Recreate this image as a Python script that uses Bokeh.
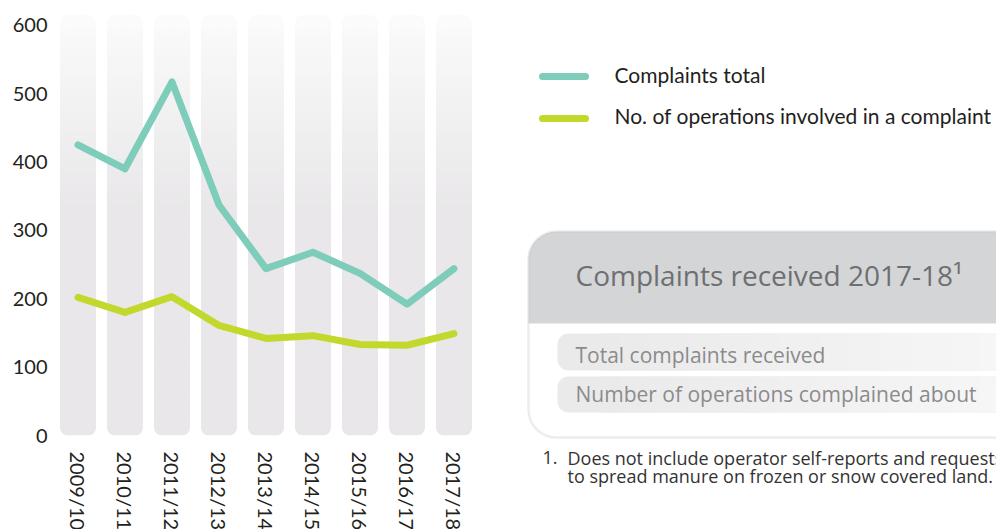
from bokeh.plotting import figure
from bokeh.models import ColumnDataSource, Range1d, FactorRange, BoxAnnotation
from bokeh.transform import dodge
from bokeh.layouts import row
from bokeh.embed import file_html
from bokeh.resources import INLINE
from bokeh.core.properties import value

# ---------------- data ----------------
years = ["2009/10", "2010/11", "2011/12", "2012/13", "2013/14",
         "2014/15", "2015/16", "2016/17", "2017/18"]
complaints_total = [425, 390, 517, 337, 244, 268, 237, 192, 244]
operations_involved = [202, 180, 203, 161, 142, 146, 133, 132, 149]
y_ticks = [0, 100, 200, 300, 400, 500, 600]
series_names = ["Complaints total", "No. of operations involved in a complaint"]
box_title = "Complaints received 2017-18\u00b9"
box_rows = ["Total complaints received", "Number of operations complained about"]
footnote_num = "1."
footnote_lines = ["Does not include operator self-reports and requests",
                  "to spread manure on frozen or snow covered land."]

# ---------------- styles ----------------
TEAL = "#7dcdba"
LIME = "#c3d82d"
AXIS_FONT = "Lato"
BOX_FONT = "Open Sans"
TEXT_DARK = "#231f20"

Y_END = 620
FRAME_H = 424
FRAME_W = 423
PX = FRAME_H / Y_END           # pixels per unit
CAT_PX = FRAME_W / len(years)  # pixels per category
BAR_PX = 36
R_PX = 8
BAR_TOP = 615

bar_w = BAR_PX / CAT_PX
r_v = R_PX / PX

p = figure(x_range=FactorRange(*years), y_range=Range1d(0, Y_END),
           frame_width=FRAME_W, frame_height=FRAME_H,
           min_border_left=54, min_border_right=19, min_border_top=11, min_border_bottom=94,
           output_backend="svg", toolbar_location=None)
p.x_range.range_padding = 0
p.frame_align = False

BOT_C = (233, 231, 233)
TOP_C = (251, 251, 251)


def grad(v):
    t = (v - 330) / (BAR_TOP - 330)
    t = max(0.0, min(1.0, t))
    c = tuple(int(round(BOT_C[i] + (TOP_C[i] - BOT_C[i]) * t)) for i in range(3))
    return "#%02x%02x%02x" % c


# gradient bar body
N = 60
lo, hi = r_v, BAR_TOP - r_v
step = (hi - lo) / N
seg = dict(x=[], bottom=[], top=[], color=[])
for k in range(N):
    b = lo + k * step
    t = b + step + 0.8
    for yr in years:
        seg["x"].append(yr)
        seg["bottom"].append(b)
        seg["top"].append(min(t, hi))
        seg["color"].append(grad(b + step / 2))
p.vbar(x="x", width=bar_w, bottom="bottom", top="top", fill_color="color",
       line_color=None, source=ColumnDataSource(seg))

# strips and rounded corners
narrow = (BAR_PX - 2 * R_PX) / CAT_PX
p.vbar(x=years, width=narrow, bottom=0, top=r_v + 0.5, fill_color=grad(0), line_color=None)
p.vbar(x=years, width=narrow, bottom=hi - 0.5, top=BAR_TOP, fill_color=grad(BAR_TOP), line_color=None)
off = bar_w / 2 - R_PX / CAT_PX
csrc = ColumnDataSource(dict(x=years))
for dx in (-off, off):
    p.scatter(x=dodge("x", dx, range=p.x_range), y=r_v, size=2 * R_PX, marker="circle",
              fill_color=grad(0), line_color=None, source=csrc)
    p.scatter(x=dodge("x", dx, range=p.x_range), y=hi, size=2 * R_PX, marker="circle",
              fill_color=grad(BAR_TOP), line_color=None, source=csrc)

# data lines
p.line(x=years, y=complaints_total, line_width=7, line_color=TEAL,
       line_cap="round", line_join="round")
p.line(x=years, y=operations_involved, line_width=7, line_color=LIME,
       line_cap="round", line_join="round")

p.grid.visible = False
p.outline_line_color = None
p.background_fill_color = "white"
p.border_fill_color = "white"
for ax in (p.xaxis[0], p.yaxis[0]):
    ax.axis_line_color = None
    ax.major_tick_line_color = None
    ax.minor_tick_line_color = None
    ax.major_tick_out = 0
    ax.major_tick_in = 0
    ax.major_label_text_font = AXIS_FONT
    ax.major_label_text_font_size = "20px"
    ax.major_label_text_color = TEXT_DARK
p.yaxis.ticker = y_ticks
p.yaxis.major_label_standoff = 7
p.xaxis.major_label_orientation = "vertical"
p.xaxis.major_label_standoff = 16

# ---------------- right panel ----------------
W2, H = 500, 529
X0 = 996 - W2
q = figure(width=W2, height=H, x_range=Range1d(X0, 996), y_range=Range1d(0, H),
           min_border=0, x_axis_location=None, y_axis_location=None,
           output_backend="svg", toolbar_location=None)
q.frame_align = False
q.grid.visible = False
q.outline_line_color = None


def Y(sy):
    return H - sy


def TB(sy, fs):
    # text baseline position (compensating the renderer's baseline offset)
    return Y(sy - 0.42 * fs)


# legend
LEG_FS = 21
for name, col, sy in ((series_names[0], TEAL, 76), (series_names[1], LIME, 118)):
    q.line(x=[542, 585], y=[Y(sy), Y(sy)], line_width=7, line_color=col, line_cap="round")
q.text(x=[614, 614], y=[TB(83, LEG_FS), TB(124, LEG_FS)], text=series_names,
       text_font=value(AXIS_FONT), text_font_size="%gpx" % LEG_FS, text_color=TEXT_DARK,
       text_baseline="alphabetic")

# box
BL, BR, BT, BB = 528, 1040, 231, 437
q.add_layout(BoxAnnotation(left=BL, right=BR, top=Y(BT), bottom=Y(BB), fill_color="white",
                           fill_alpha=1, line_color=None, border_radius=28, level="underlay"))
q.add_layout(BoxAnnotation(left=BL, right=BR, top=Y(BT), bottom=Y(323), fill_color="#d4d5d7",
                           fill_alpha=1, line_color=None, border_radius=(28, 0, 0, 0),
                           level="underlay"))
rows_px = [(333, 370), (376, 412)]
for (t, b) in rows_px:
    q.add_layout(BoxAnnotation(left=557, right=BR, top=Y(t), bottom=Y(b), fill_color="#ebeaeb",
                               fill_alpha=1, line_color=None, border_radius=11, level="underlay"))
# light gradient to the right inside rows
gq = dict(left=[], right=[], top=[], bottom=[], color=[])
GS = 40
gx0, gx1 = 600, 1000
for k in range(GS):
    l = gx0 + (gx1 - gx0) * k / GS
    r = gx0 + (gx1 - gx0) * (k + 1) / GS + 0.6
    t_ = k / (GS - 1)
    c0, c1 = (235, 234, 235), (246, 246, 246)
    col = "#%02x%02x%02x" % tuple(int(round(c0[i] + (c1[i] - c0[i]) * t_)) for i in range(3))
    for (t, b) in rows_px:
        gq["left"].append(l)
        gq["right"].append(r)
        gq["top"].append(Y(t))
        gq["bottom"].append(Y(b))
        gq["color"].append(col)
q.quad(left="left", right="right", top="top", bottom="bottom", fill_color="color",
       line_color=None, source=ColumnDataSource(gq))
q.add_layout(BoxAnnotation(left=BL, right=BR, top=Y(BT), bottom=Y(BB), fill_alpha=0,
                           line_color="#c3c3c3", line_width=2.5, border_radius=28,
                           level="overlay"))

q.text(x=[575], y=[TB(286, 28)], text=[box_title], text_font=value(BOX_FONT),
       text_font_size="28px", text_color="#6e6f71", text_baseline="alphabetic")
q.text(x=[575, 575], y=[TB(363, 21), TB(402, 21)], text=box_rows, text_font=value(BOX_FONT),
       text_font_size="21px", text_color="#8b8b8b", text_baseline="alphabetic")
q.text(x=[542], y=[TB(465, 18)], text=[footnote_num], text_font=value(BOX_FONT),
       text_font_size="18px", text_color="#333333", text_baseline="alphabetic")
q.text(x=[567, 567], y=[TB(465, 18), TB(483, 18)], text=footnote_lines,
       text_font=value(BOX_FONT), text_font_size="18px", text_color="#333333",
       text_baseline="alphabetic")

layout = row(p, q, spacing=0)
open("out.html", "w").write(file_html(layout, INLINE))
